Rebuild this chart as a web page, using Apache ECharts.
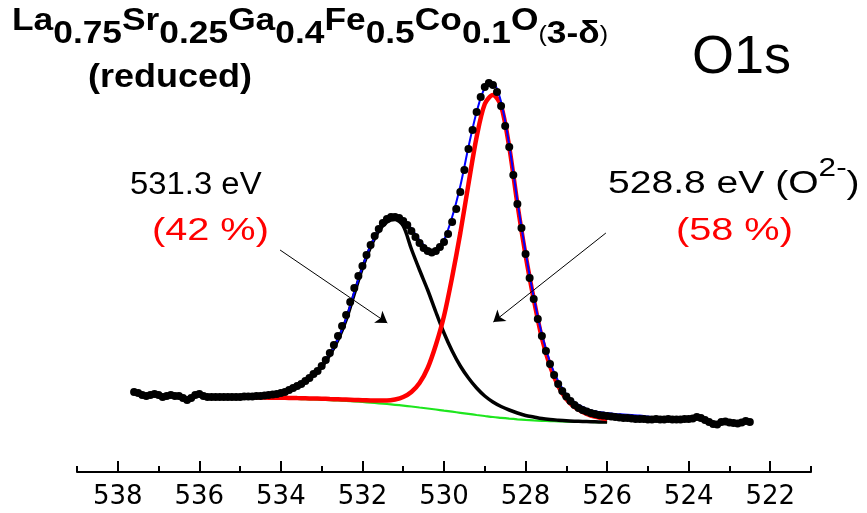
<!DOCTYPE html>
<html>
<head>
<meta charset="utf-8">
<script src="https://cdn.jsdelivr.net/npm/echarts@6/dist/echarts.min.js"></script>
<style>
html,body{margin:0;padding:0;background:#fff;}
#chart{width:867px;height:513px;}
</style>
</head>
<body>
<div id="chart"></div>
<script>
// ---- Experimental O1s spectrum (binding energy, eV / intensity, a.u.) ----
const expEnergy = [
537.6,537.5,537.4,537.3,537.2,537.1,537.0,536.9,536.8,536.7,
536.6,536.5,536.4,536.3,536.2,536.1,536.0,535.9,535.8,535.7,
535.6,535.5,535.4,535.3,535.2,535.1,535.0,534.9,534.8,534.7,
534.6,534.5,534.4,534.3,534.2,534.1,534.0,533.9,533.8,533.7,
533.6,533.5,533.4,533.3,533.2,533.1,533.0,532.9,532.8,532.7,
532.6,532.5,532.4,532.3,532.2,532.1,532.0,531.9,531.8,531.7,
531.6,531.5,531.4,531.3,531.2,531.1,531.0,530.9,530.8,530.7,
530.6,530.5,530.4,530.3,530.2,530.1,530.0,529.9,529.8,529.7,
529.6,529.5,529.4,529.3,529.2,529.1,529.0,528.9,528.8,528.7,
528.6,528.5,528.4,528.3,528.2,528.1,528.0,527.9,527.8,527.7,
527.6,527.5,527.4,527.3,527.2,527.1,527.0,526.9,526.8,526.7,
526.6,526.5,526.4,526.3,526.2,526.1,526.0,525.9,525.8,525.7,
525.6,525.5,525.4,525.3,525.2,525.1,525.0,524.9,524.8,524.7,
524.6,524.5,524.4,524.3,524.2,524.1,524.0,523.9,523.8,523.7,
523.6,523.5,523.4,523.3,523.2,523.1,523.0,522.9,522.8,522.7,
522.6,522.5
];
const expIntensity = [
80,79,77,76,77,78,77,75,76,77,
76,76,74,72,74,77,78,76,75,75,
75,75,75,75,75,75,75,75.5,75.5,75.5,
76,76,76.5,77,77.5,78,79,80,82,84,
86,88,91,94,98,101,106,112,119,127,
136,146,157,170,184,196,206,217,227,236,
243,249,253,255,255,254,251,247,241,235,
229,224,221,219.5,221,225,230,238,250,263,
280,302,323,342,360,375,385,389,387,380,
366,346,325,297,268,244,218,194,173,153,
136,121,108,97,88,81,75.5,71,67,64,
62,60.5,59,58,57,56.5,56,55.5,55,54.5,
54,54,53.5,53,53,53,52.5,52.5,53,52.5,
52.5,53,52.5,52.5,52.5,53,53,53.5,55,54,
52,50,48,47.5,50,50.5,49.5,49,48.5,49.5,
51,50
];

// ---- Fit components (energy grid of the fitted curves) ----
const fitEnergy = [
535.6,535.4,535.2,535.0,534.8,534.6,534.4,534.2,534.0,533.8,
533.6,533.4,533.2,533.0,532.8,532.6,532.4,532.2,532.0,531.8,
531.6,531.4,531.2,531.0,530.8,530.6,530.4,530.2,530.0,529.8,
529.6,529.4,529.2,529.0,528.8,528.6,528.4,528.2,528.0,527.8,
527.6,527.4,527.2,527.0,526.8,526.6,526.4,526.2,526.0
];
const background = [
74.5,74.4,74.3,74.2,74.1,74,73.8,73.7,73.5,73.3,
73,72.8,72.5,72.2,71.9,71.5,71.1,70.6,70,69.4,
68.7,68,67.2,66.4,65.5,64.5,63.5,62.5,61.4,60.3,
59.2,58.1,57,56,55,54.2,53.4,52.7,52.1,51.6,
51.2,50.9,50.6,50.4,50.2,50.1,50,49.9,49.9
];
const peak5288 = [
74.8,74.7,74.6,74.6,74.5,74.5,74.4,74.3,74.2,74.1,
73.9,73.7,73.5,73.3,73,72.7,72.4,72.1,71.8,71.6,
71.4,71.4,72.5,75,80,89,104,127,156,195,
239,288,335,368,377,366,325,268,217,173,
134,106,86,73,65,60,56.5,54.5,53
];
const peak5313 = [
75,75,75,75,75.2,75.5,76,77,78.5,81,
85,90,96.5,105,117,132,152,178,204,225,
241,250,252.5,246,223,202,182,160,139,121,
106,94,84,76,70,65.5,62,59,56.5,55,
53.5,52.5,51.8,51.2,50.8,50.5,50.3,50.1,50
];
// envelope (sum of fit) extends a little further
const envEnergy = [
535.6,535.4,535.2,535.0,534.8,534.6,534.4,534.2,534.0,533.8,
533.6,533.4,533.2,533.0,532.8,532.6,532.4,532.2,532.0,531.8,
531.6,531.4,531.2,531.0,530.8,530.6,530.4,530.2,530.0,529.8,
529.6,529.4,529.2,529.0,528.8,528.6,528.4,528.2,528.0,527.8,
527.6,527.4,527.2,527.0,526.8,526.6,526.4,526.2,526.0,525.8,
525.6,525.4,525.2,525.0,524.8
];
const envelope = [
75.5,75.5,75.5,75.5,75.7,76,76.5,77.5,79,81.5,
85.5,90.5,97,105.5,118,133,153.5,180,205,226.5,
242,251.5,254.5,252,243.5,232,223,221,232,255,
286,325,360,384,389,370,327,271,220,175,
138,110,91,78,70,65,61.5,60,59,58,
57.5,57,56.5,55.5,54.5
];

// ---- Axis ticks ----
const minorTicks = [521,522,523,524,525,526,527,528,529,530,531,532,533,534,535,536,537,538,539];
const majorTicks = [522,524,526,528,530,532,534,536,538];

// ---- Annotation arrows (start / tip in data units) ----
const arrow1 = [[534.02, 222], [531.39, 149]];
const arrow2 = [[526.03, 239], [528.79, 150]];

const pairs = (xs, ys) => xs.map((x, i) => [x, ys[i]]);

const chart = echarts.init(document.getElementById('chart'), null, {renderer: 'canvas'});
const FONT = '"Liberation Sans", Arial, sans-serif';

const xBase = {
  type: 'value', min: 521, max: 539, inverse: true, gridIndex: 0, position: 'bottom',
  splitLine: {show: false}
};

chart.setOption({
  animation: false,
  backgroundColor: '#ffffff',
  grid: {left: 77, right: 56, top: 22, bottom: 41},
  xAxis: [
    Object.assign({}, xBase, {
      axisLine: {show: true, lineStyle: {color: '#000', width: 2}},
      axisTick: {show: true, inside: true, length: 6, customValues: minorTicks, lineStyle: {color: '#000', width: 2}},
      axisLabel: {show: false}
    }),
    Object.assign({}, xBase, {
      axisLine: {show: false},
      axisTick: {show: true, inside: true, length: 11, customValues: majorTicks, lineStyle: {color: '#000', width: 2}},
      axisLabel: {show: true, customValues: majorTicks, color: '#000', fontSize: 26,
        fontFamily: '"DejaVu Sans", sans-serif', margin: 12}
    })
  ],
  yAxis: {type: 'value', min: 0, max: 450, show: false},
  series: [
    {type: 'line', name: 'background', data: pairs(fitEnergy, background), showSymbol: false, symbol: 'none',
      smooth: 0.3, lineStyle: {color: '#1ee61e', width: 2.2}, z: 1},
    {type: 'line', name: '531.3 eV', data: pairs(fitEnergy, peak5313), showSymbol: false, symbol: 'none',
      smooth: 0.3, lineStyle: {color: '#000', width: 3.5}, z: 2},
    {type: 'line', name: '528.8 eV', data: pairs(fitEnergy, peak5288), showSymbol: false, symbol: 'none',
      smooth: 0.3, lineStyle: {color: '#ff0000', width: 4.5}, z: 3},
    {type: 'line', name: 'envelope', data: pairs(envEnergy, envelope), showSymbol: false, symbol: 'none',
      smooth: 0.3, lineStyle: {color: '#0000ff', width: 2}, z: 4},
    {type: 'scatter', name: 'experiment', data: pairs(expEnergy, expIntensity), symbol: 'circle', symbolSize: 8,
      itemStyle: {color: '#000', opacity: 1}, z: 5,
      markLine: {
        silent: true, symbol: ['none', 'arrow'], symbolSize: 11, animation: false,
        label: {show: false},
        emphasis: {disabled: true},
        lineStyle: {color: '#000', width: 1, type: 'solid', opacity: 1},
        data: [
          [{coord: arrow1[0]}, {coord: arrow1[1]}],
          [{coord: arrow2[0]}, {coord: arrow2[1]}]
        ]
      }
    }
  ],
  graphic: [
    {type: 'text', left: 12, top: 6, scaleX: 1.14, style: {
      text: '{a|La}{s|0.75}{a|Sr}{s|0.25}{a|Ga}{s|0.4}{a|Fe}{s|0.5}{a|Co}{s|0.1}{a|O}{p|(}{s|3-δ}{p|)}',
      fill: '#000',
      rich: {
        a: {fontSize: 31, fontWeight: 'bold', fontFamily: FONT, verticalAlign: 'top', fill: '#000'},
        s: {fontSize: 31, fontWeight: 'bold', fontFamily: FONT, verticalAlign: 'top', padding: [13, 0, 0, 0], fill: '#000'},
        p: {fontSize: 22, fontWeight: 'normal', fontFamily: FONT, verticalAlign: 'top', padding: [18, 0, 0, 0], fill: '#000'}
      }
    }},
    {type: 'text', left: 88, top: 61, scaleX: 1.09, style: {text: '(reduced)', fill: '#000',
      font: 'bold 33px ' + FONT}},
    {type: 'text', left: 692, top: 31, style: {text: 'O1s', fill: '#000',
      font: '54px ' + FONT}},
    {type: 'text', left: 130, top: 170, scaleX: 1.06, style: {text: '531.3 eV', fill: '#000',
      font: '31px ' + FONT}},
    {type: 'text', left: 152, top: 216, scaleX: 1.28, style: {text: '(42 %)', fill: '#ff0000',
      font: '31px ' + FONT}},
    {type: 'text', left: 608, top: 157, scaleX: 1.26, style: {
      text: '{m|528.8 eV (O}{u|2-}{m|)}', fill: '#000',
      rich: {
        m: {fontSize: 31, fontFamily: FONT, verticalAlign: 'top', padding: [12, 0, 0, 0], fill: '#000'},
        u: {fontSize: 25, fontFamily: FONT, verticalAlign: 'top', fill: '#000'}
      }
    }},
    {type: 'text', left: 676, top: 216, scaleX: 1.28, style: {text: '(58 %)', fill: '#ff0000',
      font: '31px ' + FONT}}
  ]
});
</script>
</body>
</html>
